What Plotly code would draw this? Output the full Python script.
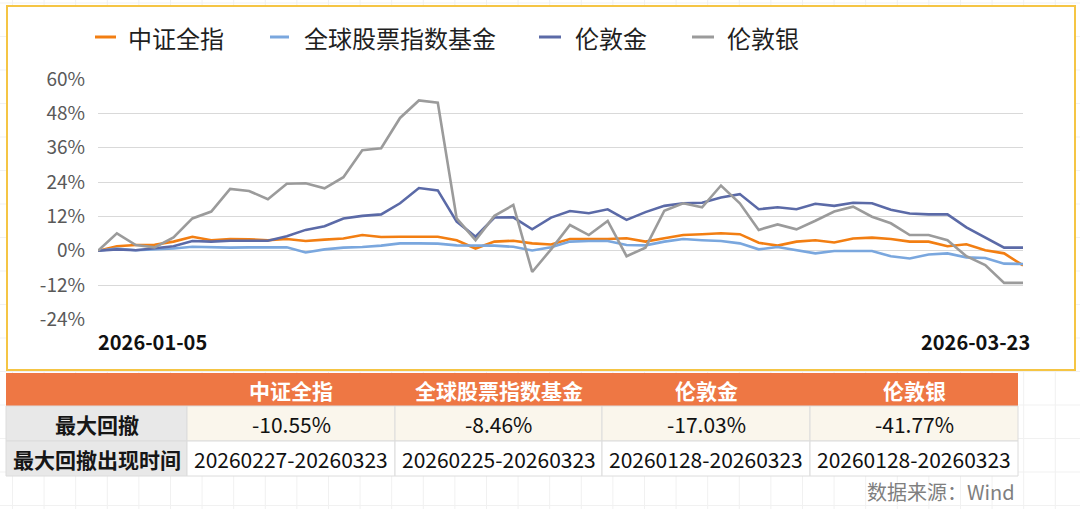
import plotly.graph_objects as go

# ---------------- data ----------------
dates = [
    "2026-01-05", "2026-01-06", "2026-01-07", "2026-01-08", "2026-01-09",
    "2026-01-12", "2026-01-13", "2026-01-14", "2026-01-15", "2026-01-16",
    "2026-01-19", "2026-01-20", "2026-01-21", "2026-01-22", "2026-01-23",
    "2026-01-26", "2026-01-27", "2026-01-28", "2026-01-29", "2026-01-30",
    "2026-02-02", "2026-02-03", "2026-02-04", "2026-02-05", "2026-02-06",
    "2026-02-09", "2026-02-10", "2026-02-11", "2026-02-12", "2026-02-13",
    "2026-02-24", "2026-02-25", "2026-02-26", "2026-02-27",
    "2026-03-02", "2026-03-03", "2026-03-04", "2026-03-05", "2026-03-06",
    "2026-03-09", "2026-03-10", "2026-03-11", "2026-03-12", "2026-03-13",
    "2026-03-16", "2026-03-17", "2026-03-18", "2026-03-19", "2026-03-20",
    "2026-03-23",
]

csi_all = [0.0, 1.6, 2.0, 2.1, 3.2, 4.9, 3.7, 4.1, 4.0, 3.7,
           4.1, 3.4, 3.9, 4.3, 5.5, 4.8, 4.9, 5.0, 4.9, 3.7,
           0.8, 3.2, 3.5, 2.6, 2.2, 4.1, 4.1, 4.1, 4.4, 3.2,
           4.4, 5.5, 5.8, 6.1, 5.8, 2.8, 1.8, 3.2, 3.7, 2.9,
           4.3, 4.6, 4.1, 3.2, 3.2, 1.6, 2.3, 0.2, -0.9, -5.1]

global_fund = [0.0, 0.8, 0.2, 0.5, 0.8, 1.4, 1.2, 1.1, 1.2, 1.2,
               1.2, -0.6, 0.5, 1.1, 1.3, 1.8, 2.6, 2.6, 2.5, 1.9,
               1.9, 1.8, 1.4, 0.1, 1.2, 3.2, 3.4, 3.4, 2.0, 1.9,
               3.2, 4.1, 3.7, 3.4, 2.6, 0.5, 1.3, 0.2, -0.9, -0.1,
               0.0, -0.1, -1.9, -2.7, -1.3, -0.9, -2.3, -2.5, -4.5, -4.6]

london_gold = [0.0, 0.5, 0.2, 0.8, 1.6, 3.4, 3.2, 3.5, 3.5, 3.5,
               5.1, 7.3, 8.6, 11.3, 12.2, 12.7, 16.6, 21.9, 21.1, 10.2,
               4.9, 11.6, 11.7, 7.5, 11.6, 13.9, 13.1, 14.5, 10.8, 13.5,
               15.7, 16.6, 16.8, 18.6, 19.8, 14.5, 15.2, 14.5, 16.4, 15.7,
               16.8, 16.6, 14.3, 13.0, 12.7, 12.7, 8.2, 4.6, 1.1, 1.1]

london_silver = [0.0, 6.1, 2.0, 1.2, 4.7, 11.3, 13.7, 21.6, 20.9, 18.0,
                 23.4, 23.6, 21.8, 25.7, 35.1, 35.8, 46.4, 52.5, 51.7, 11.3,
                 3.7, 12.2, 16.0, -7.4, 0.5, 9.0, 5.5, 10.4, -1.9, 1.1,
                 14.0, 16.6, 15.2, 22.8, 16.6, 7.3, 9.2, 7.5, 10.5, 13.7,
                 15.4, 11.9, 9.6, 5.5, 5.5, 3.7, -1.9, -5.0, -11.2, -11.2]

series_names = ["中证全指", "全球股票指数基金", "伦敦金", "伦敦银"]
series_values = [csi_all, global_fund, london_gold, london_silver]

y_ticks = [-24, -12, 0, 12, 24, 36, 48, 60]
y_tick_labels = ["-24%", "-12%", "0%", "12%", "24%", "36%", "48%", "60%"]

table_row_labels = ["最大回撤", "最大回撤出现时间"]
max_drawdown = ["-10.55%", "-8.46%", "-17.03%", "-41.77%"]
drawdown_period = ["20260227-20260323", "20260225-20260323",
                   "20260128-20260323", "20260128-20260323"]
source_text = "数据来源：Wind"

# ---------------- styling ----------------
W, H = 1080, 509
FONT = "Noto Sans CJK SC, Noto Sans, sans-serif"
colors = ["#F27E12", "#7AA7DE", "#5B6AA7", "#9B9B9B"]


def px(x):
    return x / W


def py(y):
    return 1 - y / H


fig = go.Figure()

for name, vals, col in zip(series_names, series_values, colors):
    fig.add_trace(go.Scatter(
        x=dates, y=vals, name=name, mode="lines",
        line=dict(color=col, width=2.6),
        showlegend=False,
        hovertemplate="%{x}<br>%{y:.1f}%<extra>" + name + "</extra>",
    ))

shapes = []
annotations = []

# faint spreadsheet-like background grid
gx = 12.5
while gx < W:
    shapes.append(dict(type="line", xref="paper", yref="paper",
                       x0=px(gx), x1=px(gx), y0=0, y1=1,
                       line=dict(color="#F1F1F1", width=1), layer="below"))
    gx += 31.6
gy = 3
while gy < H:
    shapes.append(dict(type="line", xref="paper", yref="paper",
                       x0=0, x1=1, y0=py(gy), y1=py(gy),
                       line=dict(color="#F1F1F1", width=1), layer="below"))
    gy += 33.5

# yellow chart frame
shapes.append(dict(type="rect", xref="paper", yref="paper",
                   x0=px(7), x1=px(1075), y0=py(370), y1=py(6),
                   line=dict(color="#F5C544", width=2),
                   fillcolor="white", layer="below"))

# manual legend
legend_lines = [(95, 116), (270, 289), (539, 561), (692, 714)]
legend_text_x = [126, 302, 573, 725]
legend_y = 37
for (x0, x1), tx, name, col in zip(legend_lines, legend_text_x, series_names, colors):
    shapes.append(dict(type="line", xref="paper", yref="paper",
                       x0=px(x0), x1=px(x1), y0=py(legend_y), y1=py(legend_y),
                       line=dict(color=col, width=3)))
    annotations.append(dict(xref="paper", yref="paper", x=px(tx), y=py(legend_y),
                            text=name, showarrow=False, xanchor="left", yanchor="middle",
                            font=dict(family=FONT, size=24, color="#1F1F1F")))

# first/last date labels
annotations.append(dict(xref="x", yref="paper", x=dates[0], y=py(341),
                        text="<b>" + dates[0] + "</b>", showarrow=False,
                        xanchor="left", yanchor="middle", xshift=-2,
                        font=dict(family=FONT, size=20, color="#111111")))
annotations.append(dict(xref="x", yref="paper", x=dates[-1], y=py(341),
                        text="<b>" + dates[-1] + "</b>", showarrow=False,
                        xanchor="right", yanchor="middle", xshift=9,
                        font=dict(family=FONT, size=20, color="#111111")))

# ---------------- table (drawn with shapes + text) ----------------
col_edges = [6, 187, 395, 602, 810, 1018]
row_edges = [373, 406, 441, 476]
header_fill = "#EE7744"
label_fill = "#E8E8E8"
row_fills = ["#FAF6EC", "#FFFFFF"]
table_rows = [max_drawdown, drawdown_period]

# header row
shapes.append(dict(type="rect", xref="paper", yref="paper",
                   x0=px(col_edges[0]), x1=px(col_edges[-1]),
                   y0=py(row_edges[1]), y1=py(row_edges[0]),
                   fillcolor=header_fill, line=dict(width=0)))
for c, name in enumerate(series_names):
    cx = (col_edges[c + 1] + col_edges[c + 2]) / 2
    cy = (row_edges[0] + row_edges[1]) / 2
    annotations.append(dict(xref="paper", yref="paper", x=px(cx), y=py(cy),
                            text="<b>" + name + "</b>", showarrow=False,
                            xanchor="center", yanchor="middle",
                            font=dict(family=FONT, size=21, color="white")))
# body rows
for r, (label, vals) in enumerate(zip(table_row_labels, table_rows)):
    y0, y1 = row_edges[r + 1], row_edges[r + 2]
    cy = (y0 + y1) / 2
    shapes.append(dict(type="rect", xref="paper", yref="paper",
                       x0=px(col_edges[0]), x1=px(col_edges[1]),
                       y0=py(y1), y1=py(y0),
                       fillcolor=label_fill, line=dict(color="#DCDCDC", width=1)))
    annotations.append(dict(xref="paper", yref="paper",
                            x=px((col_edges[0] + col_edges[1]) / 2), y=py(cy),
                            text="<b>" + label + "</b>", showarrow=False,
                            xanchor="center", yanchor="middle",
                            font=dict(family=FONT, size=21, color="#161616")))
    for c, v in enumerate(vals):
        shapes.append(dict(type="rect", xref="paper", yref="paper",
                           x0=px(col_edges[c + 1]), x1=px(col_edges[c + 2]),
                           y0=py(y1), y1=py(y0),
                           fillcolor=row_fills[r], line=dict(color="#DCDCDC", width=1)))
        annotations.append(dict(xref="paper", yref="paper",
                                x=px((col_edges[c + 1] + col_edges[c + 2]) / 2), y=py(cy),
                                text=v, showarrow=False,
                                xanchor="center", yanchor="middle",
                                font=dict(family=FONT, size=21, color="#111111")))

# source note
annotations.append(dict(xref="paper", yref="paper", x=px(1017), y=py(491),
                        text=source_text, showarrow=False,
                        xanchor="right", yanchor="middle",
                        font=dict(family=FONT, size=20, color="#7F7F7F")))

fig.update_layout(
    width=W, height=H,
    margin=dict(l=0, r=0, t=0, b=0, pad=0, autoexpand=False),
    paper_bgcolor="white",
    plot_bgcolor="rgba(0,0,0,0)",
    font=dict(family=FONT),
    showlegend=False,
    shapes=shapes,
    annotations=annotations,
    xaxis=dict(domain=[px(98), px(1023)], type="category",
               range=[0, len(dates) - 1], automargin=False,
               showticklabels=False, showgrid=False, zeroline=False,
               showline=False, ticks=""),
    yaxis=dict(domain=[py(319.5), py(79)], range=[-24, 60], automargin=False,
               tickvals=y_ticks, ticktext=y_tick_labels,
               showgrid=True, gridcolor="#D9D9D9", gridwidth=1,
               zeroline=False, showline=False, ticks="",
               ticklabelstandoff=12,
               tickfont=dict(family=FONT, size=19, color="#595959")),
)

fig.write_html(
    "out.html",
    config={"displayModeBar": False},
    post_script="document.body.style.margin='0';document.body.style.overflow='hidden';",
)
